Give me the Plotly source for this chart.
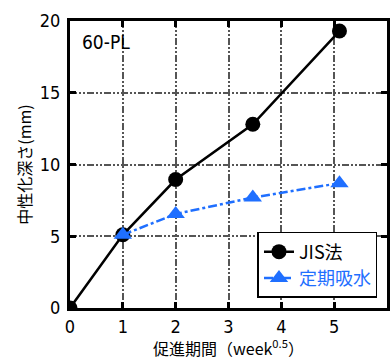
import plotly.graph_objects as go

x_jis = [0, 1, 2, 3.46, 5.1]
y_jis = [0, 5.1, 8.95, 12.8, 19.3]
x_teiki = [1, 2, 3.46, 5.1]
y_teiki = [5.1, 6.55, 7.7, 8.7]
x_ticks = [0, 1, 2, 3, 4, 5, 6]
y_ticks = [0, 5, 10, 15, 20]

FONT = "Noto Sans CJK JP"
NUMFONT = "DejaVu Sans Condensed, Liberation Sans Narrow, sans-serif"
BLUE = "#1f6fff"
GRID_DASH = "7px,2px,2px,2px,2px,2px"

fig = go.Figure()
fig.add_trace(go.Scatter(
    x=x_jis, y=y_jis, mode="lines+markers", name="JIS法",
    line=dict(color="black", width=2.5),
    marker=dict(symbol="circle", size=15, color="black"),
))
fig.add_trace(go.Scatter(
    x=x_teiki, y=y_teiki, mode="lines+markers",
    name=f"<span style='color:{BLUE}'>定期吸水</span>",
    line=dict(color=BLUE, width=2.5, dash="dashdot"),
    marker=dict(symbol="triangle-up", size=16, color=BLUE),
))

axis_common = dict(
    showline=True, linecolor="black", linewidth=3, mirror="ticks",
    ticks="inside", ticklen=6, tickwidth=3, tickcolor="black",
    showgrid=True, gridcolor="#555555", gridwidth=1.5, griddash=GRID_DASH,
    zeroline=False, automargin=False,
    tickfont=dict(family=NUMFONT, size=18, color="black"),
)
fig.update_xaxes(range=[0, 6], tickvals=x_ticks, **axis_common, ticklabelstandoff=0)
fig.update_yaxes(
    range=[0, 20], tickvals=y_ticks, **axis_common, ticklabelstandoff=3,
    title=dict(text="中性化深さ(mm)", font=dict(family=FONT, size=16, color="black"), standoff=5),
)

# x-axis title (placed as annotation for precise vertical position)
fig.add_annotation(
    x=0.5, y=0, xref="paper", yref="paper", xanchor="center", yanchor="bottom",
    yshift=-54, text="促進期間（week<sup>0.5</sup>）", showarrow=False,
    font=dict(family=FONT, size=16, color="black"),
)

fig.add_annotation(
    x=0, y=1, xref="paper", yref="paper", xanchor="left", yanchor="top",
    xshift=10, yshift=-8, text="60-PL", showarrow=False,
    font=dict(family=NUMFONT, size=19, color="black"),
)

fig.update_layout(
    width=392, height=359,
    margin=dict(l=70, r=5, t=21, b=51),
    paper_bgcolor="white", plot_bgcolor="white",
    legend=dict(
        x=0.97, y=0.035, xanchor="right", yanchor="bottom",
        bgcolor="white", bordercolor="black", borderwidth=1.5,
        font=dict(family=FONT, size=18, color="black"),
        itemwidth=30, tracegroupgap=0,
    ),
    showlegend=True,
)

fig.write_html("out.html", config={"displayModeBar": False},
               post_script="document.body.style.margin='0';document.body.style.overflow='hidden';")
